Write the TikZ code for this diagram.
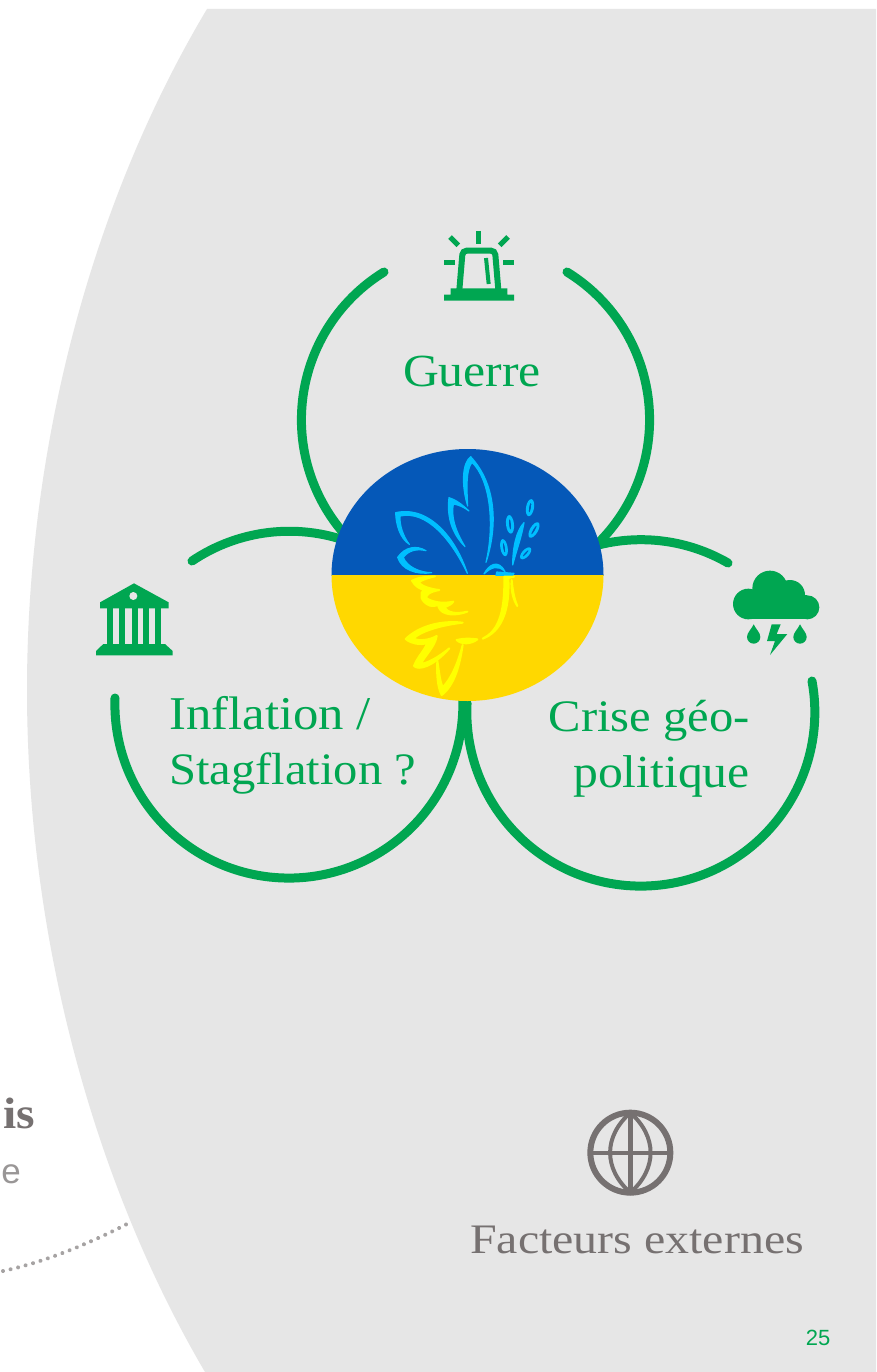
\documentclass[tikz,border=0pt]{standalone}
\usepackage{fontspec}
\newfontfamily\labelfont[FakeStretch=1.08]{Liberation Serif}
\newfontfamily\factfont[FakeStretch=1.14]{Liberation Serif}
\newfontfamily\armfont{Liberation Sans}
\definecolor{grn}{HTML}{00A651}
\definecolor{panel}{HTML}{E6E6E6}
\definecolor{txtgray}{HTML}{767171}
\definecolor{dotgray}{HTML}{A6A3A3}
\definecolor{subgray}{HTML}{999696}
\definecolor{flagblue}{HTML}{0558B8}
\definecolor{flagyellow}{HTML}{FFD800}
\definecolor{doveblue}{HTML}{00BFFF}
\definecolor{doveyellow}{HTML}{FFFF00}
\tikzset{
  ring/.style={draw=grn,line width=9pt,line cap=round},
  lbl/.style={text=grn,inner sep=0pt,font=\labelfont\fontsize{46}{55}\selectfont},
  gicon/.style={fill=grn,draw=none},
  gline/.style={draw=grn,line cap=butt},
  blue/.style={fill=doveblue,draw=doveblue,line width=1.2pt,line join=round},
  yel/.style={fill=doveyellow,draw=doveyellow,line width=2pt,line join=round}
}
\begin{document}
\begin{tikzpicture}[x=1pt,y=1pt,yscale=-1]
\useasboundingbox (0,0) rectangle (876,1372);
\clip (0,0) rectangle (876,1372);
\fill[white] (0,0) rectangle (876,1372);
% panel
\fill[panel] (876,9) -- (207,9) .. controls (90,205) and (27,450) .. (27,690) .. controls (27,930) and (90,1176) .. (205,1372) -- (876,1372) -- cycle;
% dotted line
\draw[dotgray,line width=4pt,line cap=round,dash pattern=on 0.01pt off 7.75pt] (3,1271) .. controls (45,1262) and (88,1244) .. (127,1224);
% rings
\draw[ring] (567,272) arc[start angle=-58.4,end angle=50,radius=173.5];
\draw[ring] (384,272) arc[start angle=-121.6,end angle=-230,radius=173.5];
\draw[ring] (192,561) arc[start angle=-124,end angle=-70,radius=174];
\draw[ring] (115,698) arc[start angle=182,end angle=-2,radius=174];
\draw[ring] (728,563) arc[start angle=-60,end angle=-105,radius=174];
\draw[ring] (812,681) arc[start angle=-10.3,end angle=183,radius=174];
% disc
\begin{scope}
\clip (331,449) rectangle (604,575.7);
\fill[flagblue] (467.5,575) ellipse[x radius=136,y radius=126];
\end{scope}
\begin{scope}
\clip (331,575.7) rectangle (604,702);
\fill[flagyellow] (467.5,575) ellipse[x radius=136,y radius=126];
\end{scope}
% dove
\begin{scope}[shift={(320,430)},scale=1/3]
\begin{scope}
\clip (0,0) rectangle (900,437);
\path[blue] (498,397) .. controls (530,300) and (535,170) .. (452,80) .. controls (425,100) and (425,170) .. (443,228) .. controls (440,170) and (438,120) .. (456,97) .. controls (510,150) and (525,280) .. (498,397) -- cycle;
\path[blue] (447,243) .. controls (425,222) and (405,208) .. (387,203) .. controls (380,260) and (395,310) .. (435,350) .. controls (405,300) and (393,260) .. (400,222) .. controls (418,225) and (432,232) .. (447,243) -- cycle;
\path[blue] (442,430) .. controls (410,330) and (330,225) .. (227,248) .. controls (228,285) and (240,325) .. (268,343) .. controls (250,320) and (238,285) .. (240,258) .. controls (320,240) and (395,330) .. (442,430) -- cycle;
\path[blue] (318,362) .. controls (290,345) and (255,350) .. (233,382) .. controls (245,420) and (290,435) .. (335,428) .. controls (300,428) and (260,410) .. (250,382) .. controls (265,362) and (290,355) .. (318,362) -- cycle;
\path[blue] (492,432) .. controls (505,405) and (535,385) .. (555,425) .. controls (535,405) and (515,410) .. (492,432) -- cycle;
\path[blue] (530,426) -- (582,430) -- (578,436) -- (528,436) -- cycle;
\path[blue] (578,405) .. controls (578,350) and (590,300) .. (612,278) .. controls (605,320) and (590,360) .. (578,405) -- cycle;
\foreach \lx/\ly/\lr/\la/\lb in {630/233/10/10/26, 570/283/-6/10/28, 552/353/-10/9/26, 642/300/30/10/26, 617/370/42/9/22}{
  \fill[doveblue,rotate around={\lr:(\lx,\ly)},even odd rule] (\lx,\ly) ellipse[x radius=\la+2,y radius=\lb] (\lx,\ly) ellipse[x radius=\la*0.3,y radius=\lb*0.6];
}
\end{scope}
% yellow half
\path[yel] (345,439) .. controls (320,440) and (295,442) .. (276,452) .. controls (285,470) and (305,480) .. (312,478) .. controls (298,490) and (300,515) .. (330,527) .. controls (340,530) and (355,525) .. (355,525) .. controls (355,545) and (385,565) .. (442,545) .. controls (410,552) and (385,550) .. (372,532) .. controls (385,528) and (395,522) .. (400,515) .. controls (375,520) and (345,520) .. (320,505) .. controls (315,495) and (330,485) .. (358,480) .. controls (335,478) and (300,468) .. (297,456) .. controls (310,448) and (330,442) .. (345,439) -- cycle;
\path[yel] (428,578) .. controls (360,570) and (295,590) .. (257,627) .. controls (275,642) and (300,645) .. (322,640) .. controls (310,665) and (290,685) .. (282,708) .. controls (295,722) and (340,710) .. (388,655) .. controls (350,685) and (325,698) .. (302,702) .. controls (320,670) and (345,650) .. (350,618) .. controls (330,630) and (295,635) .. (280,625) .. controls (310,600) and (370,585) .. (428,578) -- cycle;
\path[yel] (428,645) .. controls (420,700) and (405,765) .. (365,795) .. controls (352,770) and (350,730) .. (352,692) .. controls (358,730) and (360,755) .. (368,772) .. controls (395,745) and (415,695) .. (428,645) -- cycle;
\path[yel] (410,630) .. controls (430,625) and (450,625) .. (472,628) .. controls (455,642) and (425,645) .. (410,630) -- cycle;
\path[yel] (488,626) .. controls (530,605) and (555,560) .. (553,440) -- (582,440) -- (565,444) .. controls (570,540) and (545,605) .. (488,626) -- cycle;
\path[yel] (575,450) .. controls (578,480) and (582,505) .. (592,528) .. controls (580,510) and (572,480) .. (575,450) -- cycle;
\end{scope}
% siren icon
\begin{scope}[shift={(420,220)},scale=1/3]
\draw[gline,line width=5pt] (175,33) -- (175,72);
\draw[gline,line width=5pt] (90,51) -- (115,76);
\draw[gline,line width=5pt] (264,51) -- (239,76);
\draw[gline,line width=5pt] (72,127) -- (105,127);
\draw[gline,line width=5pt] (250,127) -- (282,127);
\draw[gline,line width=6pt,rounded corners=4pt] (118,210) -- (128,92) -- (225,92) -- (235,210);
\draw[gline,line width=4pt] (198,114) -- (206,192);
\fill[gicon] (92,205) -- (262,205) -- (262,224) -- (282,224) -- (282,242) -- (72,242) -- (72,224) -- (92,224) -- cycle;
\end{scope}
% bank icon
\begin{scope}[shift={(90,575)},scale=1/3]
\fill[gicon] (132,25) -- (236,82) -- (236,100) -- (30,100) -- (30,82) -- cycle;
\fill[panel] (130,63) circle[radius=12];
\foreach \cx in {52,88,125,160,196}{\fill[gicon] (\cx,100) rectangle ++(18,110);}
\fill[gicon] (40,207) -- (225,207) -- (248,228) -- (248,241) -- (18,241) -- (18,228) -- cycle;
\end{scope}
% cloud icon
\begin{scope}[shift={(720,560)},scale=1/3]
\fill[gicon] (85,132) circle[radius=46];
\fill[gicon] (150,85) circle[radius=53];
\fill[gicon] (210,105) circle[radius=45];
\fill[gicon] (262,142) circle[radius=36];
\fill[gicon] (85,105) rectangle (262,178);
\fill[gicon] (101,193) .. controls (108,208) and (121,218) .. (121,231) arc[start angle=0,end angle=180,radius=20] .. controls (81,218) and (94,208) .. (101,193) -- cycle;
\fill[gicon] (240,193) .. controls (247,208) and (260,218) .. (260,231) arc[start angle=0,end angle=180,radius=20] .. controls (220,218) and (233,208) .. (240,193) -- cycle;
\fill[gicon] (155,193) -- (182,193) -- (170,222) -- (202,222) -- (150,285) -- (165,243) -- (141,243) -- cycle;
\end{scope}
% globe icon
\begin{scope}[shift={(570,1100)},scale=1/3]
\draw[txtgray,line width=6pt] (181,158) circle[radius=120];
\draw[txtgray,line width=4pt] (181,38) .. controls (100,110) and (100,206) .. (181,278) .. controls (262,206) and (262,110) .. (181,38) -- cycle;
\draw[txtgray,line width=4.5pt] (181,38) -- (181,278);
\draw[txtgray,line width=4.2pt] (61,158) -- (301,158);
\end{scope}
% texts
\node[lbl,anchor=base] (guerre) at (472,386) {Guerre};
\node[lbl,anchor=base west,font=\labelfont\fontsize{47}{55}\selectfont] (infl) at (169,729) {Inflation /};
\node[lbl,anchor=base west,font=\labelfont\fontsize{45}{55}\selectfont] (stag) at (169,784) {Stagflation ?};
\node[lbl,anchor=base east,font=\labelfont\fontsize{45}{55}\selectfont] (crise) at (750,731) {Crise géo-};
\node[lbl,anchor=base east,font=\labelfont\fontsize{46}{55}\selectfont] (poli) at (750,787) {politique};
\node[lbl,anchor=base,text=txtgray,font=\factfont\fontsize{42}{48}\selectfont] (fact) at (637,1253) {Facteurs externes};
\node[anchor=base east,inner sep=0pt,text=txtgray,font=\labelfont\bfseries\fontsize{44}{50}\selectfont] (is) at (35,1128) {is};
\node[anchor=base east,inner sep=0pt,text=subgray,font=\armfont\fontsize{35}{40}\selectfont] (ve) at (21,1183) {e};
\node[anchor=base,inner sep=0pt,text=grn,font=\armfont\fontsize{22}{26}\selectfont] (num) at (818,1345) {25};
\end{tikzpicture}
\end{document}
